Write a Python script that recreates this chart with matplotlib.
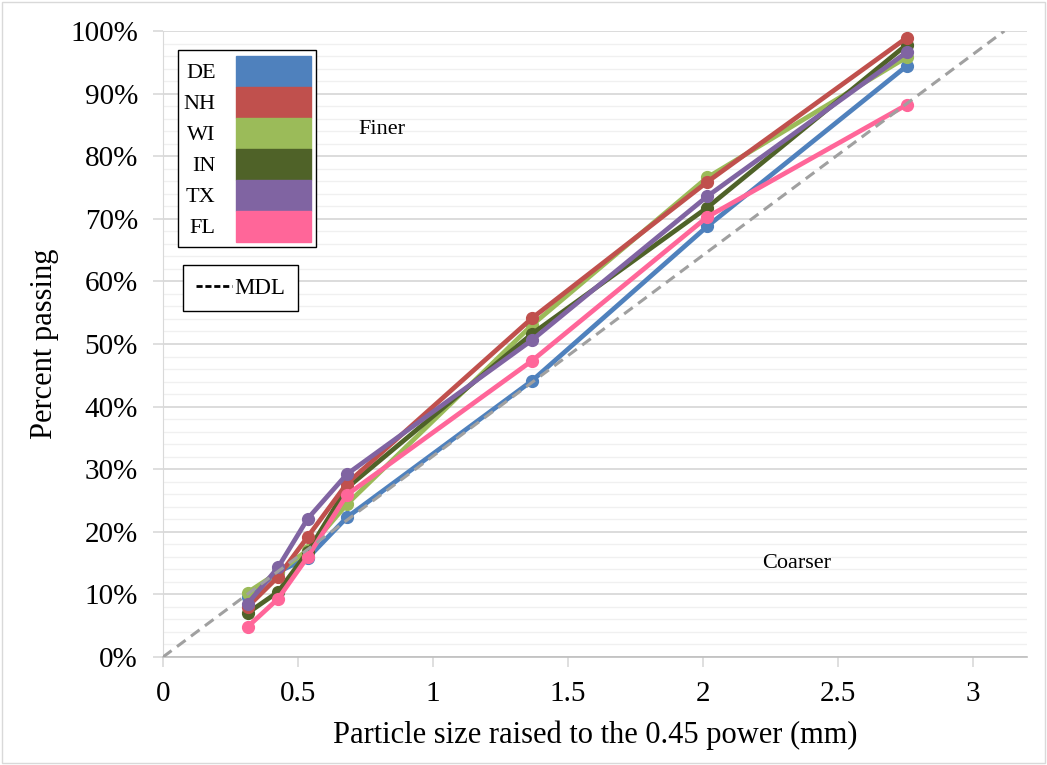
import matplotlib
matplotlib.use("Agg")
import matplotlib.pyplot as plt
from matplotlib.patches import Patch, Rectangle
from matplotlib.lines import Line2D
from matplotlib.ticker import MultipleLocator, FuncFormatter

plt.rcParams['font.family'] = ['Liberation Serif', 'DejaVu Serif']

# sieve sizes raised to the 0.45 power
sieve_x = [0.313, 0.426, 0.536, 0.681, 1.366, 2.016, 2.754]

states = ["DE", "NH", "WI", "IN", "TX", "FL"]
colors = {"DE": "#4F81BD", "NH": "#C0504D", "WI": "#9BBB59",
          "IN": "#4F6228", "TX": "#8064A2", "FL": "#FF6699"}

de = [9.6, 13.6, 15.8, 22.3, 44.1, 68.8, 94.4]
nh = [8.0, 12.8, 19.2, 27.7, 54.1, 75.9, 98.9]
wi = [10.3, 13.5, 17.1, 24.4, 53.0, 76.6, 95.8]
in_ = [7.0, 10.4, 16.8, 27.0, 51.6, 71.8, 97.8]
tx = [8.5, 14.3, 22.1, 29.2, 50.6, 73.6, 96.6]
fl = [4.8, 9.3, 16.0, 25.9, 47.3, 70.3, 88.2]

# maximum density line
mdl_x = [0, 3.116]
mdl_y = [0, 100]

series = {"DE": de, "NH": nh, "WI": wi, "IN": in_, "TX": tx, "FL": fl}
draw_order = ["DE", "WI", "IN", "NH", "TX", "FL"]

fig = plt.figure(figsize=(10.47, 7.65), dpi=100)
ax = fig.add_axes([163 / 1047, 1 - 657 / 765, (1027 - 163) / 1047, (657 - 31) / 765])

for i, s in enumerate(draw_order):
    ax.plot(sieve_x, series[s], color=colors[s], lw=3.4, marker='o', ms=8.5,
            solid_capstyle='round', zorder=3 + i)

ax.plot(mdl_x, mdl_y, color='#A0A0A0', lw=2.2, linestyle=(0, (3.5, 2.2)), zorder=10)

ax.set_xlim(0, 3.2)
ax.set_ylim(0, 100)
ax.xaxis.set_major_locator(MultipleLocator(0.5))
ax.yaxis.set_major_locator(MultipleLocator(10))
ax.yaxis.set_minor_locator(MultipleLocator(2))
ax.xaxis.set_major_formatter(FuncFormatter(lambda v, p: f"{v:g}"))
ax.yaxis.set_major_formatter(FuncFormatter(lambda v, p: f"{v:.0f}%"))

ax.grid(axis='y', which='major', color='#D9D9D9', lw=1.3, zorder=0)
ax.grid(axis='y', which='minor', color='#F0F0F0', lw=1.0, zorder=0)
ax.set_axisbelow(True)

for side in ['top', 'right']:
    ax.spines[side].set_visible(False)
ax.spines['left'].set_color('#D9D9D9')
ax.spines['bottom'].set_color('#BFBFBF')
ax.spines['bottom'].set_linewidth(1.2)
ax.tick_params(axis='both', which='major', labelsize=21, color='#D9D9D9',
               length=7, width=1.2)
ax.tick_params(axis='y', which='minor', length=0)
ax.tick_params(axis='y', pad=11)
ax.tick_params(axis='x', pad=10)

ax.set_xlabel("Particle size raised to the 0.45 power (mm)", fontsize=22, labelpad=10)
ax.set_ylabel("Percent passing", fontsize=22, labelpad=8)

ax.text(0.81, 84.2, "Finer", fontsize=16, ha='center', va='center')
ax.text(2.345, 15.0, "Coarser", fontsize=16, ha='center', va='center')

handles = [Patch(facecolor=colors[s], edgecolor=colors[s]) for s in states]
leg = ax.legend(handles, states, loc='upper left',
                bbox_to_anchor=(178 / 1047, 1 - 50 / 765), bbox_transform=fig.transFigure,
                borderaxespad=0, fontsize=16, markerfirst=False, labelspacing=0,
                handleheight=1.77, handlelength=3.38, handletextpad=0.9,
                borderpad=0.25, fancybox=False, edgecolor='black', framealpha=1)
leg.get_frame().set_linewidth(1.0)
ax.add_artist(leg)

mdl_handle = Line2D([0], [0], color='black', lw=2, linestyle=(0, (2.2, 1.0)))
leg2 = ax.legend([mdl_handle], ["MDL"], loc='upper left',
                 bbox_to_anchor=(183 / 1047, 1 - 265 / 765), bbox_transform=fig.transFigure,
                 borderaxespad=0, fontsize=16.5, handlelength=1.6, handletextpad=0.1,
                 borderpad=0.55, fancybox=False, edgecolor='black', framealpha=1)
leg2.get_frame().set_linewidth(1.0)

fig.patches.append(Rectangle((0.002, 0.002), 0.996, 0.996, transform=fig.transFigure,
                             fill=False, edgecolor='#D9D9D9', lw=1.0))

fig.savefig("out.png", dpi=100)
